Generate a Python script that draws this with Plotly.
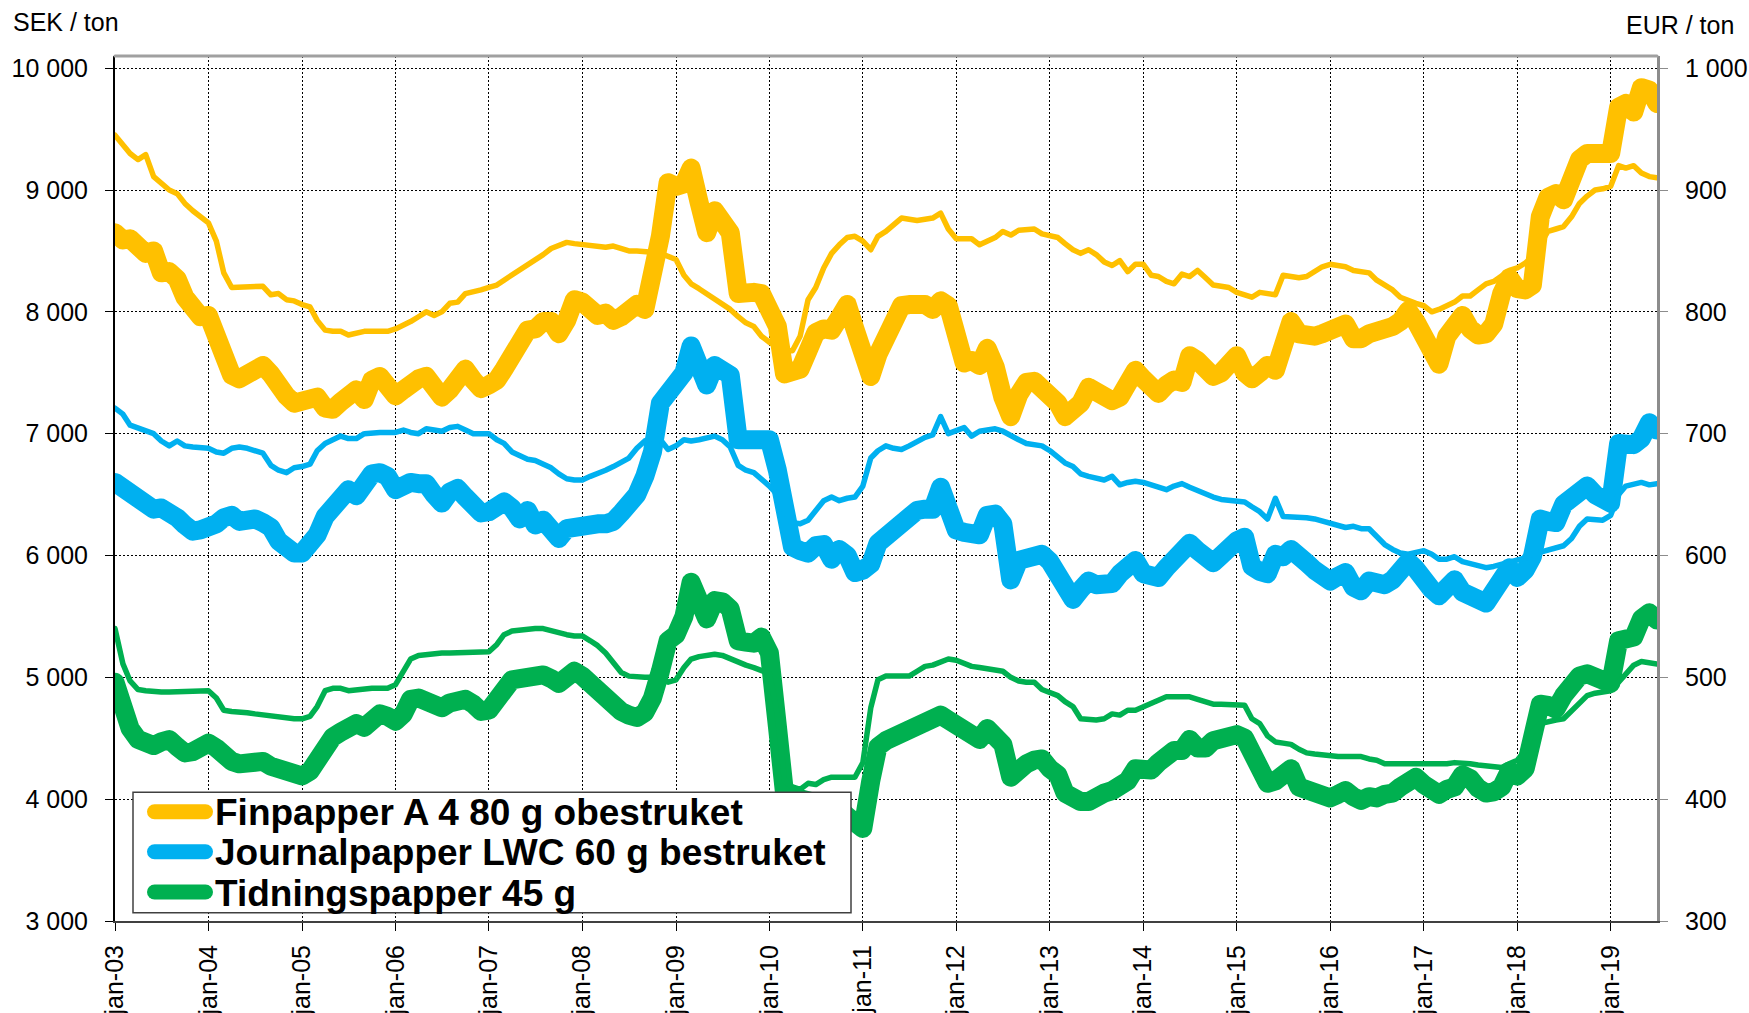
import pandas as pd
import plotly.graph_objects as go

months = pd.date_range("2003-01-01", periods=199, freq="MS")
year_ticks = [f"{y}-01-01" for y in range(2003, 2020)]
year_labels = [f"jan-{y % 100:02d}" for y in range(2003, 2020)]

# SEK / ton (left axis, thick lines)
fin_sek = [
    8650, 8590, 8600, 8520, 8480, 8500, 8320, 8330, 8270, 8120, 8010, 7960,
    7970, 7820, 7600, 7480, 7450, 7490, 7560, 7560, 7490, 7380, 7310, 7250,
    7270, 7300, 7300, 7210, 7200, 7260, 7340, 7360, 7280, 7440, 7470, 7410,
    7310, 7360, 7420, 7450, 7470, 7380, 7300, 7360, 7470, 7530, 7440, 7370,
    7400, 7440, 7530, 7620, 7770, 7850, 7860, 7920, 7920, 7820, 7930, 8100,
    8080, 7990, 7970, 7990, 7930, 7960, 8040, 8060, 8020, 8280, 8620, 9060,
    9030, 9050, 9180, 8900, 8650, 8830, 8760, 8650, 8150, 8170, 8160, 8150,
    8050, 7880, 7490, 7500, 7530, 7680, 7830, 7860, 7850, 7950, 8060, 7860,
    7650, 7470, 7650, 7780, 7950, 8050, 8060, 8080, 8060, 8020, 8090, 8050,
    7750, 7580, 7600, 7560, 7700, 7550, 7300, 7140, 7320, 7420, 7430, 7380,
    7330, 7250, 7140, 7180, 7250, 7380, 7350, 7300, 7270, 7300, 7420, 7520,
    7450, 7390, 7330, 7400, 7440, 7420, 7640, 7600, 7540, 7470, 7500, 7550,
    7640, 7500, 7450, 7500, 7560, 7520, 7800, 7920, 7820, 7790, 7800, 7820,
    7840, 7900, 7900, 7780, 7780, 7820, 7830, 7860, 7880, 7920, 8010, 7920,
    7780, 7620, 7570, 7800, 7880, 7970, 7860, 7810, 7820, 7900, 8150, 8280,
    8190, 8180, 8220, 8780, 8940, 8970, 8920, 9140, 9250, 9300, 9320, 9300,
    9300, 9680, 9710, 9640, 9840, 9820, 9710,
]
jour_sek = [
    6600, 6560, 6520, 6460, 6420, 6380, 6390, 6370, 6310, 6250, 6200, 6210,
    6220, 6260, 6310, 6330, 6280, 6290, 6300, 6270, 6230, 6120, 6060, 6020,
    6020, 6100, 6170, 6320, 6390, 6440, 6540, 6490, 6580, 6670, 6680, 6650,
    6540, 6580, 6600, 6590, 6590, 6500, 6430, 6520, 6550, 6480, 6420, 6350,
    6360, 6400, 6440, 6390, 6300, 6370, 6250, 6290, 6230, 6140, 6220, 6240,
    6250, 6260, 6260, 6260, 6280, 6350, 6420, 6500, 6650, 6850, 7250, 7350,
    7400, 7500, 7720, 7550, 7400, 7560, 7520, 7480, 6950, 6950, 6930, 6960,
    6950, 6700, 6320, 6070, 6040, 6020, 6080, 6090, 5970, 6050, 6000, 5860,
    5880, 5930, 6100, 6160, 6200, 6290, 6330, 6370, 6380, 6380, 6560, 6350,
    6210, 6190, 6190, 6170, 6330, 6340, 6260, 5800, 5960, 5990, 6000, 6010,
    5950, 5830, 5680, 5640, 5720, 5790, 5760, 5760, 5770, 5850, 5910, 5960,
    5850, 5850, 5820, 5900, 5980, 6040, 6100, 6040, 5980, 5940, 6000, 6090,
    6120, 6150, 5910, 5870, 5850, 6010, 5990, 6050, 6010, 5940, 5880, 5840,
    5790, 5830, 5860, 5740, 5710, 5790, 5780, 5760, 5800, 5850, 5950, 5890,
    5780, 5720, 5670, 5740, 5800, 5700, 5650, 5640, 5610, 5700, 5770, 5900,
    5820, 5880, 5990, 6300, 6280, 6270, 6420, 6480, 6550, 6570, 6500, 6450,
    6430, 6920, 6920, 6910, 6960, 7090, 7030,
]
tid_sek = [
    4960, 4720, 4580, 4490, 4450, 4440, 4470, 4490, 4430, 4380, 4390, 4430,
    4460, 4420, 4340, 4310, 4290, 4300, 4320, 4310, 4270, 4240, 4220, 4200,
    4190, 4230, 4320, 4450, 4510, 4550, 4600, 4620, 4590, 4640, 4700, 4680,
    4640, 4700, 4820, 4830, 4800, 4770, 4750, 4790, 4810, 4820, 4780, 4720,
    4730, 4820, 4940, 4980, 4990, 5010, 5010, 5020, 4990, 4950, 5000, 5050,
    5010, 4950, 4860, 4800, 4740, 4720, 4690, 4670, 4710, 4830, 5050, 5300,
    5350, 5500, 5780, 5580, 5480, 5630, 5620, 5560, 5300, 5290, 5280, 5330,
    5200, 4600, 4050, 4020, 4000, 3990, 3980, 3970, 3950, 3920, 3860, 3780,
    3760, 4150, 4430, 4480, 4510, 4540, 4570, 4640, 4660, 4670, 4690, 4650,
    4600, 4540, 4510, 4490, 4580, 4500, 4450, 4180, 4250, 4290, 4320, 4330,
    4250, 4200, 4050, 4010, 3980, 3980, 4030, 4050, 4070, 4120, 4150, 4250,
    4250, 4240, 4300, 4350, 4400, 4400, 4490, 4420, 4420, 4480, 4500, 4540,
    4530, 4500, 4400, 4240, 4130, 4150, 4200, 4250, 4100, 4080, 4050, 4020,
    4010, 4040, 4070, 4020, 3990, 4020, 4010, 4040, 4050, 4100, 4150, 4180,
    4120, 4050, 4040, 4080, 4100, 4200, 4170, 4090, 4050, 4060, 4100, 4230,
    4190, 4250, 4500, 4780, 4770, 4740, 4850, 4950, 5010, 5030, 5000, 4970,
    4950, 5300, 5300, 5330, 5480, 5530, 5470,
]

# EUR / ton (right axis, thin lines)
fin_eur = [
    945, 937, 930, 925, 929, 911, 905, 900, 897, 889, 883, 878,
    873, 858, 832, 820, 820, 821, 821, 821, 814, 815, 810, 809,
    806, 804, 793, 785, 784, 784, 781, 783, 784, 784, 784, 784,
    786, 789, 792, 796, 800, 797, 800, 807, 808, 815, 816, 818,
    820, 822, 826, 830, 834, 838, 842, 847, 852, 855, 857, 856,
    855, 855, 853, 853, 854, 852, 850, 850, 850, 849, 848, 845,
    843, 830, 823, 819, 815, 811, 807, 802, 796, 791, 788, 780,
    775, 771, 768, 768, 780, 810, 820, 836, 848, 855, 861, 862,
    858, 851, 862, 866, 871, 877, 876, 875, 876, 877, 881, 868,
    860, 860, 860, 855, 858, 861, 866, 863, 867, 867, 868, 864,
    862, 861, 856, 851, 848, 851, 847, 841, 838, 842, 833, 839,
    839, 830, 829, 825, 823, 831, 829, 834, 828, 822, 821, 820,
    816, 814, 812, 816, 815, 814, 830, 829, 828, 829, 833, 837,
    839, 838, 837, 834, 833, 832, 826, 822, 818, 812, 809, 807,
    805, 800, 802, 805, 808, 813, 813, 818, 823, 825, 830, 834,
    836, 840, 845, 856, 866, 868, 870, 878, 889, 895, 900, 901,
    903, 920, 918, 920, 914, 911, 910,
]
jour_eur = [
    721, 716, 707, 705, 703, 700, 694, 690, 694, 690, 689, 689,
    688, 685, 684, 688, 689, 688, 686, 684, 674, 670, 668, 672,
    673, 675, 686, 692, 695, 698, 696, 696, 700, 701, 701, 701,
    701, 703, 701, 700, 704, 703, 702, 705, 706, 703, 700, 700,
    700, 695, 692, 685, 682, 679, 678, 675, 672, 667, 663, 662,
    662, 665, 667, 670, 673, 677, 680, 688, 694, 696, 695, 687,
    690, 695, 694, 695, 696, 698, 695, 689, 674, 670, 668, 663,
    657, 650, 636, 627, 626, 629, 637, 645, 648, 645, 647, 648,
    657, 680, 686, 690, 688, 687, 690, 694, 697, 699, 714, 700,
    703, 705, 698, 702, 703, 704, 702, 698, 695, 692, 691, 690,
    686, 680, 676, 673, 667, 665, 664, 662, 665, 658, 660, 661,
    660, 658, 656, 654, 657, 659, 656, 653, 650, 648, 646, 645,
    644, 644, 640, 636, 630, 647, 632, 632, 632, 631, 630, 628,
    627, 624, 623, 624, 622, 622, 616, 609, 605, 602, 601, 602,
    604, 601, 597, 597, 599, 595, 593, 591, 590, 591, 593, 594,
    596, 598, 601, 603, 604, 606, 608, 614, 624, 630, 629, 629,
    633, 650, 657, 659, 660, 658, 659,
]
tid_eur = [
    540, 511, 497, 490, 489, 488, 488, 488, 488, 489, 489, 489,
    489, 483, 473, 472, 472, 471, 470, 469, 468, 467, 467, 466,
    466, 468, 476, 489, 491, 491, 489, 490, 490, 491, 491, 491,
    494, 505, 515, 518, 519, 520, 520, 520, 520, 520, 520, 520,
    521, 527, 535, 538, 539, 540, 540, 540, 538, 536, 535, 534,
    534, 530, 526, 520, 512, 504, 501, 500, 500, 500, 500, 496,
    498, 508, 515, 517, 518, 519, 518, 515, 513, 510, 508, 505,
    503, 470, 415, 410, 408, 413, 412, 416, 418, 418, 418, 418,
    430, 475, 498, 501, 501, 501, 501, 505, 509, 510, 512, 515,
    514, 511, 509, 508, 507, 506, 505, 500, 497, 496, 496, 490,
    488, 485, 480, 476, 466, 465, 465, 466, 470, 469, 473, 473,
    476, 478, 481, 484, 484, 484, 484, 482, 480, 478, 478, 478,
    478, 477, 466, 462, 452, 447, 446, 445, 441, 438, 437, 436,
    435, 435, 435, 435, 435, 433, 432, 429, 429, 429, 428, 428,
    428, 429, 429, 429, 430, 430, 429, 428, 427, 426, 426, 429,
    432, 440, 455, 462, 464, 465, 466, 472, 478, 485, 487, 488,
    489, 496, 503, 510, 513, 512, 511,
]

series_names = [
    "Finpapper A 4 80 g obestruket",
    "Journalpapper LWC 60 g bestruket",
    "Tidningspapper 45 g",
]
sek_ticks = list(range(3000, 10001, 1000))
eur_ticks = list(range(300, 1001, 100))

YELLOW, BLUE, GREEN = "#FFC000", "#00B0F0", "#00B050"
COLORS = [YELLOW, BLUE, GREEN]
FONT = "Liberation Sans, Arial, sans-serif"

W, H = 1749, 1013
ML, MR, MT, MB = 115, 92, 56, 92
PW, PH = W - ML - MR, H - MT - MB


def px_x(X):
    return (X - ML) / PW


def px_y(Y):
    return (H - MB - Y) / PH


def spaced(v):
    return f"{v:,}".replace(",", " ")


fig = go.Figure()
for vals, col in zip([fin_eur, jour_eur, tid_eur], COLORS):
    fig.add_trace(go.Scatter(x=months, y=vals, yaxis="y2", mode="lines",
                             line=dict(color=col, width=5.5),
                             showlegend=False, hoverinfo="skip"))
for name, vals, col in zip(series_names, [fin_sek, jour_sek, tid_sek], COLORS):
    fig.add_trace(go.Scatter(x=months, y=vals, mode="lines", name=name,
                             line=dict(color=col, width=19), showlegend=False))

# custom legend (box, line samples, labels)
shapes = [
    dict(type="line", xref="paper", yref="paper", x0=0, x1=1, y0=1, y1=1,
         line=dict(color="#a0a0a0", width=3), layer="above"),
    dict(type="rect", xref="paper", yref="paper",
         x0=px_x(133), x1=px_x(851), y0=px_y(912.7), y1=px_y(792.3),
         fillcolor="white", line=dict(color="#404040", width=1.5), layer="above"),
]
annotations = [
    dict(text="SEK / ton", xref="paper", yref="paper", x=px_x(11), y=px_y(22),
         xanchor="left", yanchor="middle", showarrow=False, font=dict(size=25)),
    dict(text="EUR / ton", xref="paper", yref="paper", x=px_x(1736), y=px_y(25),
         xanchor="right", yanchor="middle", showarrow=False, font=dict(size=25)),
]
row_y = [811.7, 851.7, 892.0]
for name, col, ry in zip(series_names, COLORS, row_y):
    shapes.append(dict(type="line", xref="paper", yref="paper",
                       x0=px_x(154.5), x1=px_x(205.5), y0=px_y(ry), y1=px_y(ry),
                       line=dict(color=col, width=15), layer="above"))
    annotations.append(dict(text=f"<b>{name}</b>", xref="paper", yref="paper",
                            x=px_x(213), y=px_y(ry + 1), xanchor="left",
                            yanchor="middle", showarrow=False,
                            font=dict(size=37, color="black")))

fig.update_layout(
    width=W, height=H,
    margin=dict(l=ML, r=MR, t=MT, b=MB),
    paper_bgcolor="white", plot_bgcolor="white",
    font=dict(family=FONT, size=25, color="black"),
    showlegend=False,
    xaxis=dict(type="date", range=["2003-01-01", "2019-07-01"],
               tickvals=year_ticks, ticktext=year_labels, tickangle=-90,
               ticks="outside", ticklen=8, tickcolor="black", tickwidth=1,
               showgrid=True, gridcolor="black", griddash="2px,2px", gridwidth=1,
               showline=True, linecolor="#404040", linewidth=2,
               zeroline=False, tickfont=dict(size=25), automargin=False,
               ticklabelstandoff=4),
    yaxis=dict(range=[3000, 10100], tickvals=sek_ticks,
               ticktext=[spaced(v) for v in sek_ticks],
               ticks="outside", ticklen=8, tickcolor="black",
               showgrid=True, gridcolor="black", griddash="2px,2px", gridwidth=1,
               showline=True, linecolor="black", linewidth=2,
               zeroline=False, tickfont=dict(size=25), ticklabelstandoff=12,
               automargin=False),
    yaxis2=dict(range=[300, 1010], overlaying="y", side="right",
                tickvals=eur_ticks, ticktext=[spaced(v) for v in eur_ticks],
                ticks="outside", ticklen=8, tickcolor="#8c8c8c",
                showgrid=False, showline=True, linecolor="#8c8c8c", linewidth=3,
                zeroline=False, tickfont=dict(size=25), ticklabelstandoff=12,
                automargin=False),
    shapes=shapes,
    annotations=annotations,
)

post = ("document.body.style.margin='0';"
        "var s=document.createElement('style');"
        "s.innerHTML='.js-line{stroke-linejoin:round;stroke-linecap:round}"
        " .shapelayer path{stroke-linecap:round}';"
        "document.head.appendChild(s);")
fig.write_html("out.html", post_script=post, config={"displayModeBar": False})
